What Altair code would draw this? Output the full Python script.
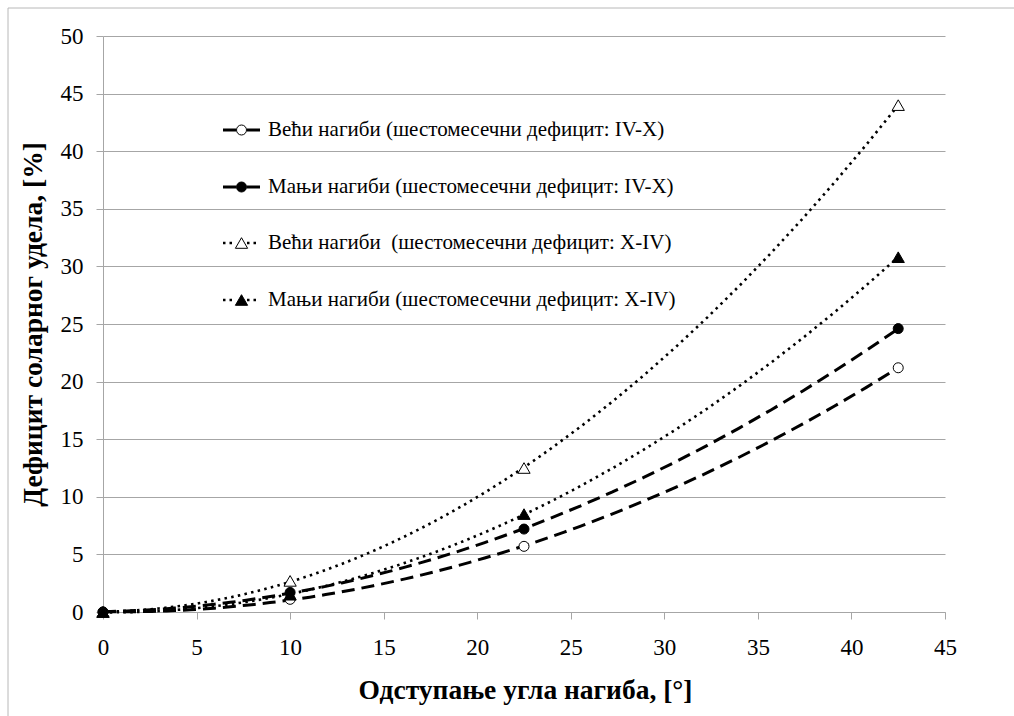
import altair as alt
import pandas as pd

# Tilt deviation [deg] and solar fraction deficit [%] for each case
angles = [0, 10, 22.5, 42.5]
veci_iv_x = [0, 1.1, 5.7, 21.2]
manji_iv_x = [0, 1.7, 7.2, 24.6]
veci_x_iv = [0, 2.7, 12.5, 44.0]
manji_x_iv = [0, 1.5, 8.5, 30.8]

labels = [
    "Већи нагиби (шестомесечни дефицит: IV-X)",
    "Мањи нагиби (шестомесечни дефицит: IV-X)",
    "Већи нагиби\u00a0 (шестомесечни дефицит: X-IV)",
    "Мањи нагиби (шестомесечни дефицит: X-IV)",
]
series_values = [veci_iv_x, manji_iv_x, veci_x_iv, manji_x_iv]

rows = []
for name, vals in zip(labels, series_values):
    for a, v in zip(angles, vals):
        rows.append({"series": name, "angle": a, "deficit": v})
df = pd.DataFrame(rows)

# marker shape, filled?, line style ("dash" or "dot")
styles = [
    ("circle", False, "dash"),
    ("circle", True, "dash"),
    ("triangle-up", False, "dot"),
    ("triangle-up", True, "dot"),
]

W, H = 842, 576
FONT = "Liberation Serif"
GRID = "#a6a6a6"

x_scale = alt.Scale(domain=[0, 45], nice=False, zero=False)
y_scale = alt.Scale(domain=[0, 50], nice=False)

x_axis = alt.Axis(
    values=list(range(0, 46, 5)), grid=False, labelPadding=17, labelFlush=False,
    title="Одступање угла нагиба, [°]", titleX=422, titleY=78,
    titleAlign="center", titleBaseline="middle",
)
y_axis = alt.Axis(
    values=list(range(0, 51, 5)), grid=True, labelPadding=13, labelFlush=False,
    title="Дефицит соларног удела, [%]", titleX=-70, titleY=H / 2,
    titleAngle=270, titleAlign="center", titleBaseline="middle",
)

DASH = [13, 7]
DOT = [2.5, 4.3]


def marker_size(shape):
    return 100 if shape == "circle" else 150


layers = []
# second-order polynomial trend lines
for i, (name, (shape, filled, style)) in enumerate(zip(labels, styles)):
    dash = DASH if style == "dash" else DOT
    width = 3 if style == "dash" else 2.6
    if i == 0:
        enc = dict(
            x=alt.X("angle:Q", scale=x_scale, axis=x_axis),
            y=alt.Y("deficit:Q", scale=y_scale, axis=y_axis),
        )
    else:
        enc = dict(x=alt.X("angle:Q", scale=x_scale), y=alt.Y("deficit:Q", scale=y_scale))
    trend = (
        alt.Chart(df)
        .transform_filter(alt.datum.series == name)
        .transform_regression("angle", "deficit", method="poly", order=2)
        .mark_line(color="black", strokeWidth=width, strokeDash=dash)
        .encode(**enc)
    )
    layers.append(trend)

# measured points
for name, (shape, filled, style) in zip(labels, styles):
    pts = (
        alt.Chart(df)
        .transform_filter(alt.datum.series == name)
        .mark_point(shape=shape, filled=True, fill="black" if filled else "white",
                    stroke="black", strokeWidth=1, size=marker_size(shape), opacity=1)
        .encode(x=alt.X("angle:Q", scale=x_scale), y=alt.Y("deficit:Q", scale=y_scale))
    )
    layers.append(pts)

# legend block inside the plot
one = pd.DataFrame({"k": [0]})
legend_rows = [94, 151, 207, 264]
for label, (shape, filled, style), ly in zip(labels, styles, legend_rows):
    dash = [1, 0] if style == "dash" else [2.5, 4]
    width = 3 if style == "dash" else 2.6
    for x0, x1 in [(120, 133), (144, 157)]:
        layers.append(
            alt.Chart(one).mark_rule(color="black", strokeWidth=width, strokeDash=dash)
            .encode(x=alt.value(x0), x2=alt.value(x1), y=alt.value(ly))
        )
    layers.append(
        alt.Chart(one).mark_point(shape=shape, filled=True, fill="black" if filled else "white",
                                  stroke="black", strokeWidth=1, size=marker_size(shape),
                                  opacity=1)
        .encode(x=alt.value(138.5), y=alt.value(ly))
    )
    layers.append(
        alt.Chart(one).mark_text(align="left", baseline="middle", font=FONT, fontSize=21,
                                 color="black", text=label)
        .encode(x=alt.value(165), y=alt.value(ly))
    )

# outer frame: top and left edges
FRAME = "#b8b8b8"
layers.append(
    alt.Chart(one).mark_rule(color=FRAME, strokeWidth=1)
    .encode(x=alt.value(-95), x2=alt.value(W + 80), y=alt.value(-28))
)
layers.append(
    alt.Chart(one).mark_rule(color=FRAME, strokeWidth=1)
    .encode(x=alt.value(-95), y=alt.value(-28), y2=alt.value(H + 120))
)

chart = (
    alt.layer(*layers)
    .properties(
        width=W, height=H,
        autosize=alt.AutoSizeParams(type="none"),
        padding={"left": 103, "top": 36, "right": 69, "bottom": 104},
        background="white",
    )
    .configure_view(stroke=None)
    .configure_axis(
        domainColor=GRID, tickColor=GRID, gridColor=GRID, tickSize=7,
        labelFont=FONT, labelFontSize=23, labelColor="black",
        titleFont=FONT, titleFontSize=27.5, titleFontWeight="bold", titleColor="black",
    )
)

chart.save("out.html", embed_options={"renderer": "svg", "actions": False})
